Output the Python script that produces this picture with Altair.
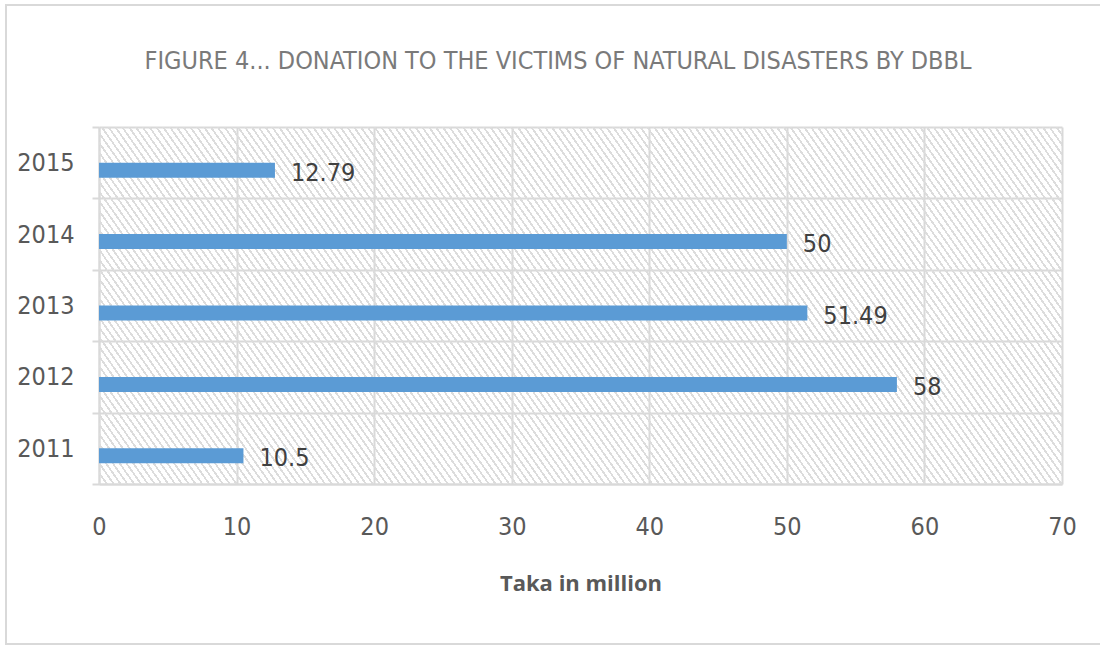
import altair as alt
import pandas as pd

# ---- data ----
years = ["2015", "2014", "2013", "2012", "2011"]
donations = [12.79, 50, 51.49, 58, 10.5]
value_labels = ["12.79", "50", "51.49", "58", "10.5"]
x_ticks = [0, 10, 20, 30, 40, 50, 60, 70]
title_text = "FIGURE 4... DONATION TO THE VICTIMS OF NATURAL DISASTERS BY DBBL"
x_title = "Taka in million"

df = pd.DataFrame({"year": years, "value": donations, "label": value_labels})
frame_df = pd.DataFrame({"x0": [x_ticks[0]], "x1": [x_ticks[-1]], "t": [title_text]})

FONT = "DejaVu Sans Condensed"
GRID = "#d9d9d9"
BAR = "#5B9BD5"
TXT = "#595959"

# ---- hatch fill (style only) ----
W, H = 963, 357
N_STRIPES = 190
FRAC = 0.32
stops = []
for i in range(N_STRIPES):
    a = i / N_STRIPES
    b = (i + FRAC) / N_STRIPES
    c = (i + 1) / N_STRIPES
    stops += [
        {"offset": round(a, 5), "color": "#dcdcdc"},
        {"offset": round(b, 5), "color": "#dcdcdc"},
        {"offset": round(b, 5), "color": "rgba(255,255,255,0)"},
        {"offset": round(c, 5), "color": "rgba(255,255,255,0)"},
    ]
hatch = {
    "gradient": "linear",
    "x1": 0, "y1": 1,
    "x2": 1.26, "y2": 0.672,
    "stops": stops,
}

x_scale = alt.Scale(domain=[x_ticks[0], x_ticks[-1]], nice=False, zero=True)
y_scale = alt.Scale(domain=years, paddingInner=0, paddingOuter=0)

x_axis = alt.Axis(
    values=x_ticks, grid=True, gridColor=GRID, gridWidth=2,
    ticks=False, domain=True, domainColor=GRID, domainWidth=2,
    labelFont=FONT, labelFontSize=25, labelColor=TXT, labelPadding=30,
    labelFlush=False,
    title=x_title, titleFont="Open Sans", titleFontSize=22, titleFontWeight="bold",
    titleColor=TXT, titleY=106, titleBaseline="alphabetic",
)
y_axis = alt.Axis(
    tickBand="extent", grid=True, gridColor=GRID, gridWidth=2,
    ticks=True, tickColor=GRID, tickWidth=2, tickSize=7,
    domain=True, domainColor=GRID, domainWidth=2,
    labelFont=FONT, labelFontSize=25, labelColor=TXT, labelPadding=18,
    title=None,
)

back = alt.Chart(frame_df).mark_rect(fill=hatch, stroke=None).encode(
    x=alt.X("x0:Q", scale=x_scale, axis=x_axis),
    x2="x1:Q",
    y=alt.value(0),
    y2=alt.value("height"),
)

bars = alt.Chart(df).mark_bar(color=BAR, size=15, yOffset=7.5).encode(
    x=alt.X("value:Q", scale=x_scale, axis=x_axis),
    y=alt.Y("year:N", scale=y_scale, sort=years, axis=y_axis),
)

texts = alt.Chart(df).mark_text(
    align="left", baseline="middle", dx=16, dy=10,
    font=FONT, fontSize=25, color="#404040",
).encode(
    x=alt.X("value:Q", scale=x_scale),
    y=alt.Y("year:N", scale=y_scale, sort=years),
    text="label:N",
)

title = alt.Chart(frame_df).mark_text(
    align="center", baseline="alphabetic",
    font=FONT, fontSize=25, color="#7a7a7a",
).encode(
    x=alt.value(459), y=alt.value(-58), text="t:N",
)

border = alt.Chart(frame_df).mark_rect(
    fill=None, stroke="#d9d9d9", strokeWidth=2
).encode(
    x=alt.value(-93), x2=alt.value(1010),
    y=alt.value(-122), y2=alt.value(517),
)

chart = alt.layer(back, bars, texts, title, border).properties(
    width=W, height=H,
    padding={"left": 99, "top": 127, "right": 38, "bottom": 161},
    autosize=alt.AutoSizeParams(type="none"),
    background="white",
).configure_view(stroke=None)

chart.save("out.html", embed_options={"renderer": "svg", "actions": False})
